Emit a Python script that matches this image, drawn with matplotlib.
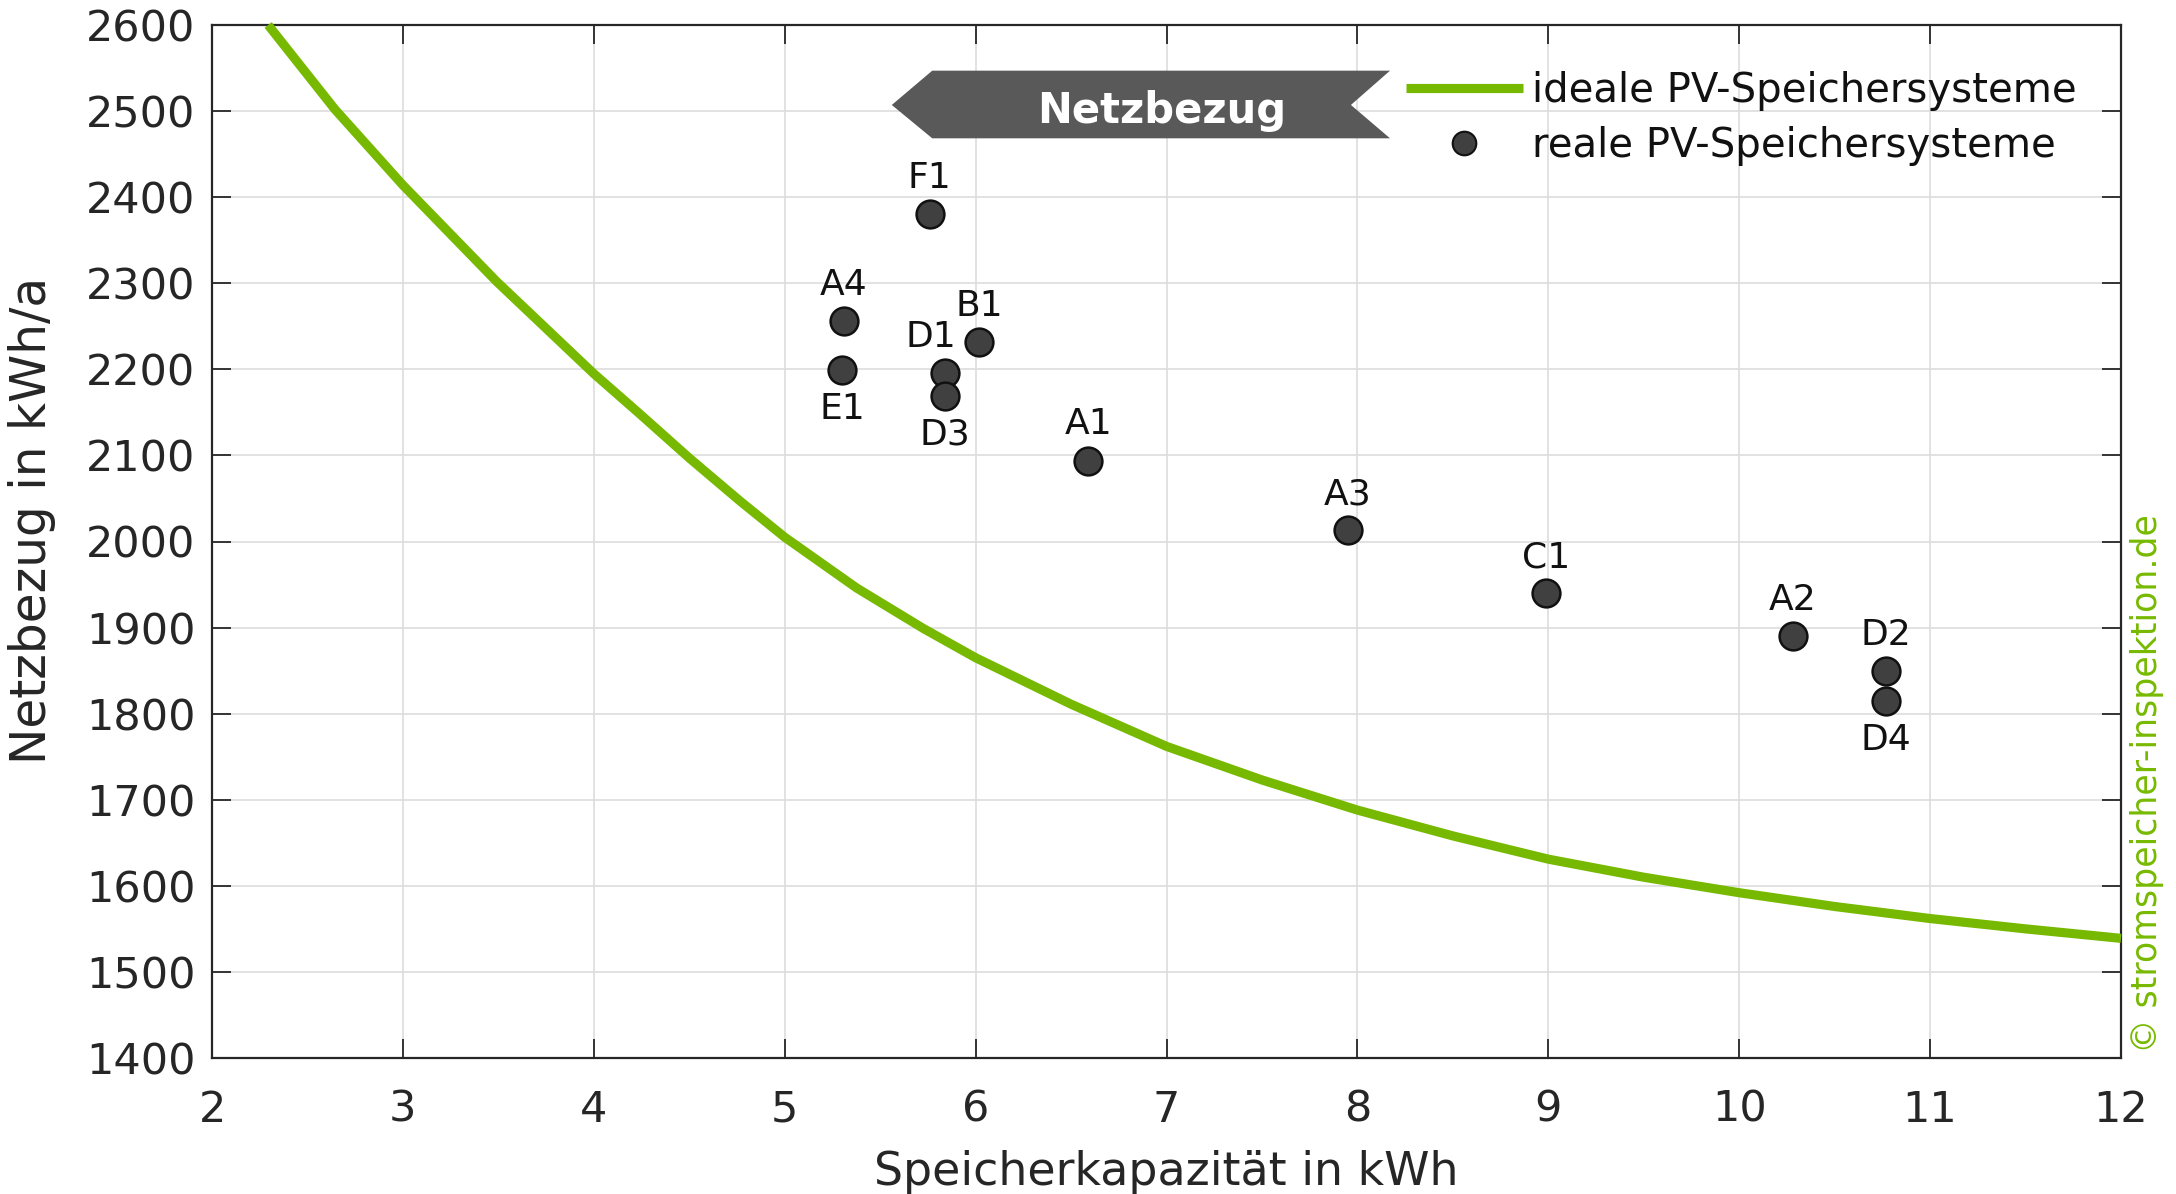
import matplotlib
matplotlib.use("Agg")
import matplotlib.pyplot as plt
from matplotlib.patches import Polygon
from matplotlib.lines import Line2D

# ideal PV storage systems (curve)
ideal_capacity = [2.294, 2.644, 3.0, 3.491, 4.0, 4.242, 4.5, 4.766, 5.0, 5.377, 5.726,
                  6.0, 6.5, 7.0, 7.5, 8.0, 8.5, 9.0, 9.5, 10.0, 10.5, 11.0, 11.5, 12.0]
ideal_grid = [2600, 2502, 2414, 2302, 2195, 2148, 2097, 2047, 2005, 1946, 1899,
              1865, 1811, 1762, 1723, 1688, 1658, 1631, 1610, 1592, 1576, 1562, 1550, 1539]

# real PV storage systems
real_names = ["F1", "A4", "E1", "D1", "D3", "B1", "A1", "A3", "C1", "A2", "D2", "D4"]
real_capacity = [5.76, 5.31, 5.30, 5.84, 5.84, 6.02, 6.59, 7.95, 8.99, 10.28, 10.77, 10.77]
real_grid = [2380, 2256, 2199, 2196, 2169, 2232, 2094, 2013, 1940, 1890, 1850, 1815]
# label placement: (dx, dy) in points
label_offsets = {"F1": (0, 26), "A4": (0, 26), "E1": (0, -28), "D1": (-10, 26),
                 "D3": (0, -28), "B1": (0, 26), "A1": (0, 26), "A3": (0, 26),
                 "C1": (0, 26), "A2": (0, 26), "D2": (0, 26), "D4": (0, -28)}

x_ticks = list(range(2, 13))
y_ticks = list(range(1400, 2601, 100))

GREEN = "#77b900"
DARK = "#262626"

plt.rcParams["font.family"] = ["DejaVu Sans"]

fig = plt.figure(figsize=(21.76, 11.94), dpi=100)
ax = fig.add_axes([212 / 2176, 1 - 1058 / 1194, (2121 - 212) / 2176, (1058 - 25) / 1194])

ax.set_xlim(2, 12)
ax.set_ylim(1400, 2600)
ax.set_xticks(x_ticks)
ax.set_yticks(y_ticks)
ax.grid(True, color="#dddddd", linewidth=1.2)
ax.set_axisbelow(True)

ax.plot(ideal_capacity, ideal_grid, color=GREEN, linewidth=6.6, solid_capstyle="butt",
        solid_joinstyle="round", zorder=3, clip_on=False)
ax.plot(real_capacity, real_grid, linestyle="none", marker="o", markersize=20,
        markerfacecolor="#404040", markeredgecolor="#111111", markeredgewidth=1.8, zorder=4)

for name, x, y in zip(real_names, real_capacity, real_grid):
    dx, dy = label_offsets[name]
    ax.annotate(name, (x, y), xytext=(dx, dy), textcoords="offset points",
                ha="center", va="center", fontsize=26, color="#111111", zorder=5)

for s in ax.spines.values():
    s.set_color(DARK)
    s.set_linewidth(1.6)
ax.tick_params(axis="both", direction="in", length=14, width=1.3, color=DARK,
               labelsize=31, labelcolor=DARK, top=True, right=True)
ax.tick_params(axis="x", pad=22)
ax.tick_params(axis="y", pad=12)

ax.set_xlabel("Speicherkapazität in kWh", fontsize=33, color=DARK, labelpad=14)
ax.set_ylabel("Netzbezug in kWh/a", fontsize=35, color=DARK)
ax.yaxis.set_label_coords(-0.0815, 0.5208)

# "Netzbezug" arrow banner (axes fraction coordinates)
banner = Polygon([(0.3561, 0.9226), (0.3773, 0.9558), (0.6171, 0.9558), (0.5966, 0.9226),
                  (0.6171, 0.8903), (0.3773, 0.8903)], closed=True,
                 transform=ax.transAxes, facecolor="#595959", edgecolor="none", zorder=6)
ax.add_patch(banner)
ax.text(0.4977, 0.9054, "Netzbezug", transform=ax.transAxes, ha="center", va="baseline",
        fontsize=30, fontweight="bold", color="white", zorder=7)

handles = [Line2D([], [], color=GREEN, linewidth=6.6, solid_capstyle="butt"),
           Line2D([], [], linestyle="none", marker="o", markersize=17,
                  markerfacecolor="#404040", markeredgecolor="#111111", markeredgewidth=1.5)]
leg = ax.legend(handles, ["ideale PV-Speichersysteme", "reale PV-Speichersysteme"],
                loc="upper left", bbox_to_anchor=(0.6255, 0.9555), frameon=False,
                fontsize=29, handlelength=2.9, handletextpad=0.22, labelspacing=0.38,
                borderpad=0, borderaxespad=0)
for t in leg.get_texts():
    t.set_color("#111111")
leg.set_zorder(8)

fig.text(2147 / 2176, 1 - 784 / 1194, "© stromspeicher-inspektion.de", rotation=90,
         ha="center", va="center", fontsize=25, color=GREEN)

fig.savefig("out.png", dpi=100)
